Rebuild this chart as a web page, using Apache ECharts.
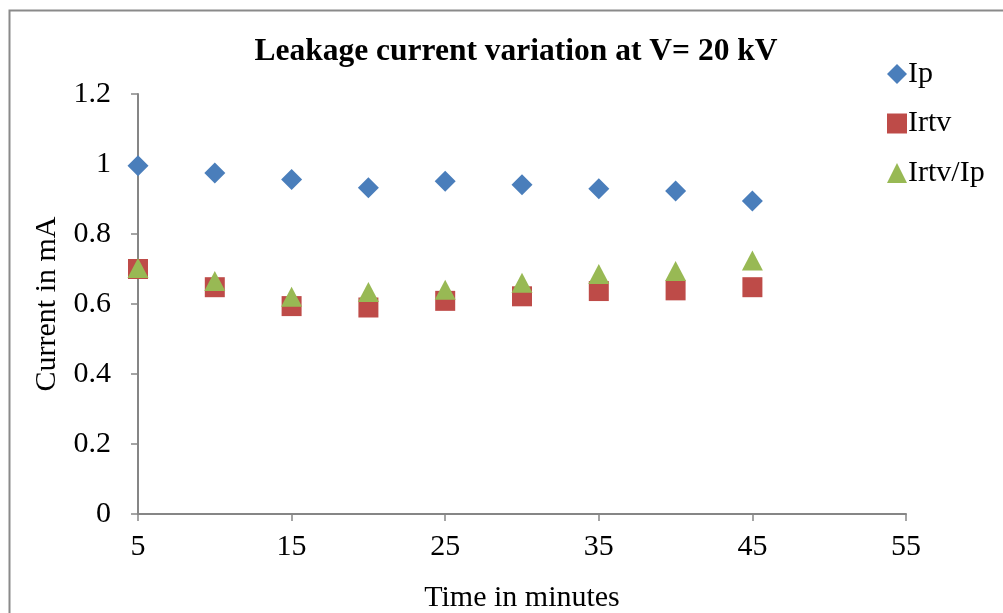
<!DOCTYPE html>
<html>
<head>
<meta charset="utf-8">
<title>Leakage current variation at V= 20 kV</title>
<script src="https://cdn.jsdelivr.net/npm/echarts@6/dist/echarts.min.js"></script>
<style>
  html, body { margin: 0; padding: 0; background: #fff; }
  #chart { width: 1003px; height: 613px; }
</style>
</head>
<body>
<div id="chart"></div>
<script>
// Time (minutes) and measured leakage currents (mA)
const timeMinutes = [5, 10, 15, 20, 25, 30, 35, 40, 45];
const ip = [0.995, 0.974, 0.956, 0.932, 0.951, 0.941, 0.929, 0.923, 0.894];
const irtv = [0.700, 0.648, 0.594, 0.590, 0.609, 0.622, 0.637, 0.639, 0.648];
const irtvOverIp = [0.703, 0.666, 0.621, 0.634, 0.641, 0.661, 0.686, 0.694, 0.724];
const xTicks = [5, 15, 25, 35, 45, 55];
const yTicks = [0, 0.2, 0.4, 0.6, 0.8, 1, 1.2];

const FONT = '"Liberation Serif", "Times New Roman", serif';
const AXIS_GRAY = '#868686';
const TEXT_SIZE = 30;

const pairs = (ys) => timeMinutes.map((t, i) => [t, ys[i]]);

const chart = echarts.init(document.getElementById('chart'), null, { renderer: 'canvas' });
chart.setOption({
  animation: false,
  backgroundColor: '#fff',
  graphic: [{
    type: 'rect',
    left: 7, top: 8,
    shape: { width: 1020, height: 640 },
    style: { fill: 'none', stroke: '#8a8a8a', lineWidth: 2 },
    silent: true, z: -1
  }],
  title: {
    text: 'Leakage current variation at V= 20 kV',
    left: 511, top: 31, textAlign: 'center',
    textStyle: { fontFamily: FONT, fontWeight: 'bold', fontSize: 31.5, lineHeight: 32, color: '#000' }
  },
  legend: {
    orient: 'vertical',
    left: 882, top: 54,
    itemWidth: 20, itemHeight: 20, itemGap: 19.5,
    textStyle: { fontFamily: FONT, fontSize: TEXT_SIZE, lineHeight: 30, color: '#000', padding: [0, 0, 0, -4] },
    data: [
      { name: 'Ip', icon: 'diamond' },
      { name: 'Irtv', icon: 'rect' },
      { name: 'Irtv/Ip', icon: 'triangle' }
    ]
  },
  grid: { left: 138, right: 97, top: 94, bottom: 99, containLabel: false, outerBoundsMode: 'none' },
  xAxis: {
    type: 'value',
    min: xTicks[0], max: xTicks[xTicks.length - 1], interval: 10,
    name: 'Time in minutes', nameLocation: 'middle', nameGap: 69,
    nameTextStyle: { fontFamily: FONT, fontSize: TEXT_SIZE, color: '#000' },
    axisLine: { show: true, lineStyle: { color: AXIS_GRAY, width: 2 } },
    axisTick: { show: true, length: 7, lineStyle: { color: AXIS_GRAY, width: 1.5 } },
    axisLabel: { margin: 18, fontFamily: FONT, fontSize: TEXT_SIZE, color: '#000' },
    splitLine: { show: false }
  },
  yAxis: {
    type: 'value',
    min: yTicks[0], max: yTicks[yTicks.length - 1], interval: 0.2,
    name: 'Current in mA', nameLocation: 'middle', nameGap: 76, nameRotate: 90,
    nameTextStyle: { fontFamily: FONT, fontSize: TEXT_SIZE, color: '#000' },
    axisLine: { show: true, lineStyle: { color: AXIS_GRAY, width: 2 } },
    axisTick: { show: true, length: 7, lineStyle: { color: AXIS_GRAY, width: 1.5 } },
    axisLabel: {
      margin: 27, fontFamily: FONT, fontSize: TEXT_SIZE, color: '#000',
      formatter: (v) => String(Math.round(v * 10) / 10)
    },
    splitLine: { show: false }
  },
  series: [
    {
      name: 'Ip', type: 'scatter', symbol: 'diamond', symbolSize: 21,
      itemStyle: { color: '#4a7ebb', opacity: 1 }, data: pairs(ip)
    },
    {
      name: 'Irtv', type: 'scatter', symbol: 'rect', symbolSize: 20,
      itemStyle: { color: '#be4b48', opacity: 1 }, data: pairs(irtv)
    },
    {
      name: 'Irtv/Ip', type: 'scatter', symbol: 'triangle', symbolSize: [21, 20],
      itemStyle: { color: '#98b954', opacity: 1 }, data: pairs(irtvOverIp)
    }
  ]
});
</script>
</body>
</html>
